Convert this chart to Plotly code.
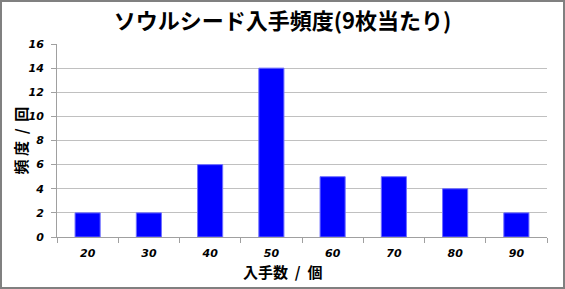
import plotly.graph_objects as go

categories = ["20", "30", "40", "50", "60", "70", "80", "90"]
counts = [2, 2, 6, 14, 5, 5, 4, 2]
y_ticks = [0, 2, 4, 6, 8, 10, 12, 14, 16]

title_text = "ソウルシード入手頻度(9枚当たり)"
x_title = "入手数&nbsp;&nbsp;/&nbsp;&nbsp;個"
y_title = "頻&nbsp;度&nbsp;&nbsp;/&nbsp;&nbsp;回"

jp = "Noto Sans CJK JP"
tick_font = dict(family="DejaVu Sans", size=11, color="black", style="italic", weight="bold")

fig = go.Figure(go.Bar(
    x=categories, y=counts,
    marker=dict(color="#0000ff", line=dict(color="#6f6fff", width=1)),
))

W, H = 565, 289
L, R, T, B = 57, 18, 44, 52
pw, ph = W - L - R, H - T - B

fig.update_layout(
    width=W, height=H,
    margin=dict(l=L, r=R, t=T, b=B),
    paper_bgcolor="white", plot_bgcolor="white",
    bargap=0.59,
    showlegend=False,
    title=dict(text=title_text, x=0.5, xanchor="center", y=0.925, yanchor="middle",
               font=dict(family=jp, size=22, color="black", weight=600)),
    xaxis=dict(
        type="category",
        showline=True, linecolor="#a0a0a0", linewidth=1,
        ticks="outside", tickson="boundaries", ticklen=5, tickcolor="#a0a0a0",
        tickfont=tick_font, ticklabelstandoff=6,
        showgrid=False,
    ),
    yaxis=dict(
        range=[0, 16], tickvals=y_ticks,
        showline=True, linecolor="#a0a0a0", linewidth=1,
        ticks="outside", ticklen=5, tickcolor="#a0a0a0",
        showgrid=True, gridcolor="#c0c0c0", gridwidth=1,
        zeroline=False,
        tickfont=tick_font, ticklabelstandoff=5,
    ),
)

fig.add_annotation(text=x_title, xref="paper", yref="paper",
                   x=(W / 2 - L) / pw, y=-(271 - (T + ph)) / ph,
                   xanchor="center", yanchor="middle", showarrow=False,
                   font=dict(family=jp, size=15, color="black", weight=600))
fig.add_annotation(text=y_title, xref="paper", yref="paper",
                   x=-(L - 20) / pw, y=0.5, textangle=-90,
                   xanchor="center", yanchor="middle", showarrow=False,
                   font=dict(family=jp, size=15, color="black", weight=600))

# outer border of the chart image
fig.add_shape(type="rect", xref="paper", yref="paper",
              x0=-(L - 1) / pw, x1=1 + (R - 1) / pw, y0=-(B - 1) / ph, y1=1 + (T - 1) / ph,
              line=dict(color="#808080", width=2), layer="above")

fig.write_html("out.html")
